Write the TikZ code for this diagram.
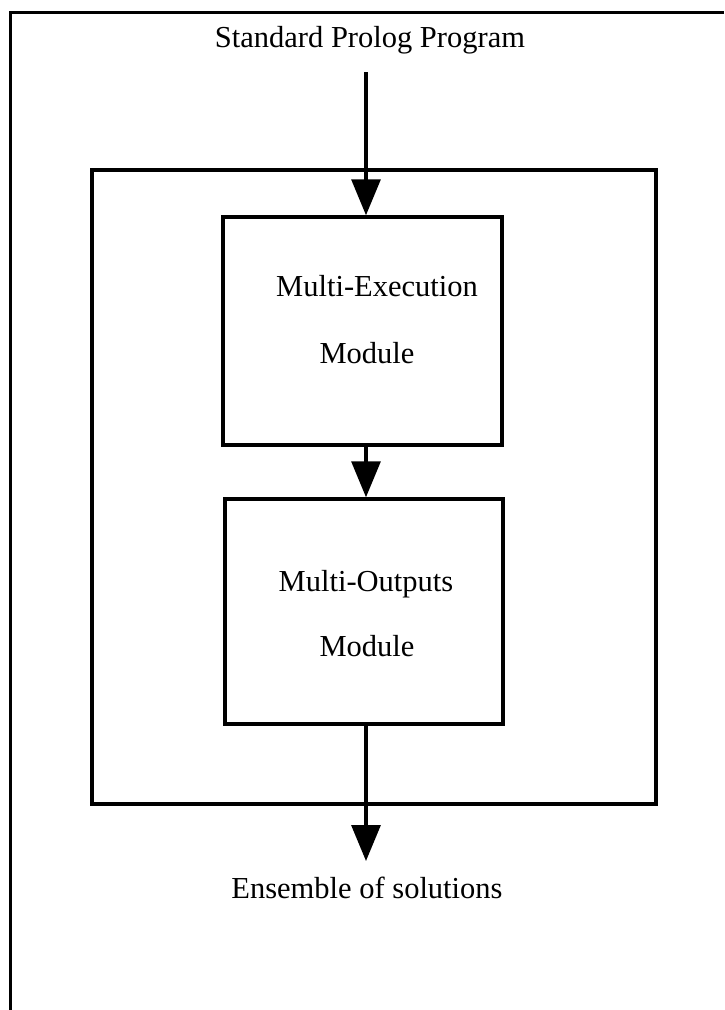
\documentclass[tikz,border=0pt]{standalone}
\usepackage{fontspec}
\setmainfont{Liberation Serif}
\usetikzlibrary{arrows.meta}
\tikzset{
  frameline/.style={line width=3pt},
  modbox/.style={draw, line width=3.5pt, inner sep=0pt},
  flow/.style={line width=3.2pt, -{Triangle[width=29pt,length=36pt]}},
  lbl/.style={inner sep=0pt, font=\fontsize{30.5}{30}\selectfont},
}
\begin{document}
\begin{tikzpicture}[x=1pt,y=-1pt]
  \useasboundingbox (0,0) rectangle (724,1010);
  % open page frame (left and top rules)
  \draw[frameline] (10,1010) -- (10,12) -- (724,12);

  % enclosing system box
  \draw[modbox] (92,170) rectangle (656,804);

  % modules
  \node[modbox, minimum width=279pt, minimum height=228pt] (exec) at (362.5,331) {};
  \node[modbox, minimum width=278pt, minimum height=225pt] (outs) at (364,611.5) {};

  % texts
  \node[lbl, anchor=base] (prog) at (370,47) {Standard Prolog Program};
  \node[lbl, anchor=base] (execA) at (377,296) {Multi-Execution};
  \node[lbl, anchor=base] (execB) at (367,363) {Module};
  \node[lbl, anchor=base] (outsA) at (366,591) {Multi-Outputs};
  \node[lbl, anchor=base] (outsB) at (367,656) {Module};
  \node[lbl, anchor=base] (sols) at (367,898) {Ensemble of solutions};

  % connectors
  \coordinate (src) at (366,72);
  \coordinate (dst) at (366,861);
  \draw[flow] (src) -- (src |- exec.north);
  \draw[flow] (exec.south -| src) -- (outs.north -| src);
  \draw[flow] (outs.south -| src) -- (dst);
\end{tikzpicture}
\end{document}
